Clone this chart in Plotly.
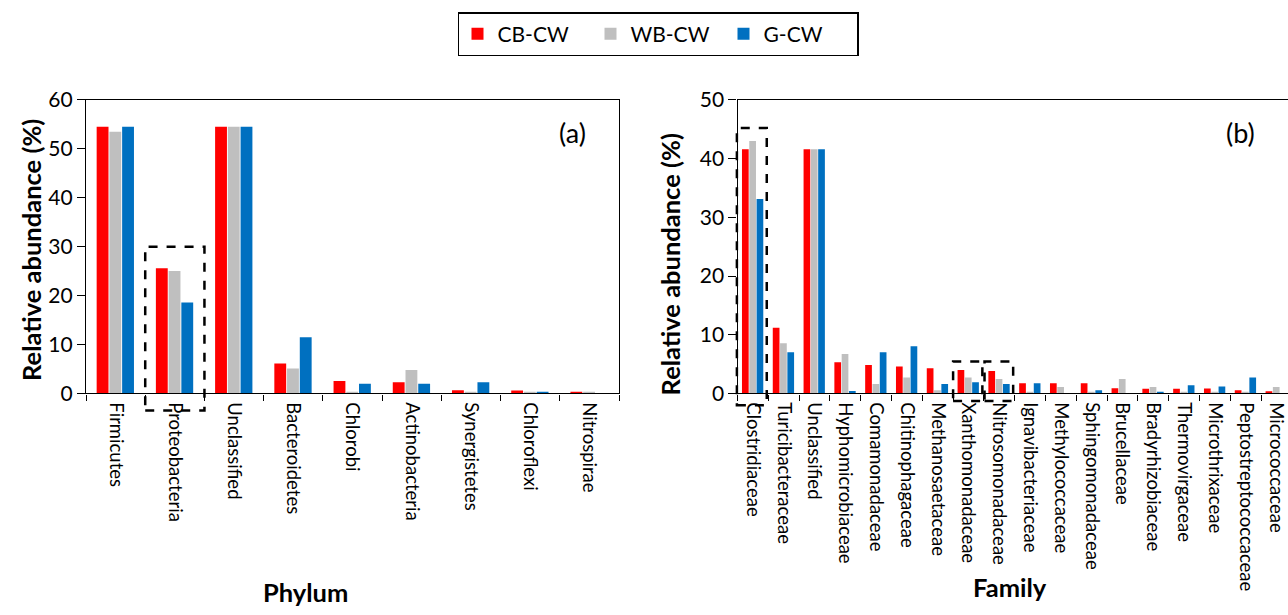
import plotly.graph_objects as go

# ---------------- data ----------------
series_names = ["CB-CW", "WB-CW", "G-CW"]
series_colors = ["#ff0000", "#bfbfbf", "#0070c0"]

phyla = ["Firmicutes", "Proteobacteria", "Unclassified", "Bacteroidetes", "Chlorobi",
         "Actinobacteria", "Synergistetes", "Chloroflexi", "Nitrospirae"]
cb_phylum = [54.5, 25.6, 54.5, 6.1, 2.55, 2.3, 0.65, 0.6, 0.35]
wb_phylum = [53.5, 25.0, 54.5, 5.1, 0.2, 4.8, 0.15, 0.2, 0.15]
g_phylum = [54.5, 18.6, 54.5, 11.5, 2.0, 2.0, 2.3, 0.35, 0.0]

families = ["Clostridiaceae", "Turicibacteraceae", "Unclassified", "Hyphomicrobiaceae",
            "Comamonadaceae", "Chitinophagaceae", "Methanosaetaceae", "Xanthomonadaceae",
            "Nitrosomonadaceae", "Ignavibacteriaceae", "Methylococcaceae",
            "Sphingomonadaceae", "Brucellaceae", "Bradyrhizobiaceae", "Thermovirgaceae",
            "Microthrixaceae", "Peptostreptococcaceae", "Micrococcaceae"]
cb_family = [41.6, 11.2, 41.6, 5.3, 4.85, 4.6, 4.3, 4.0, 3.8, 1.75, 1.75, 1.75,
             0.9, 0.8, 0.8, 0.85, 0.55, 0.35]
wb_family = [43.0, 8.55, 41.6, 6.7, 1.6, 2.7, 0.55, 2.7, 2.45, 0.2, 1.1, 0.2,
             2.45, 1.1, 0.2, 0.2, 0.2, 1.1]
g_family = [33.1, 7.0, 41.6, 0.4, 7.0, 8.05, 1.6, 1.9, 1.6, 1.75, 0.0, 0.55,
            0.0, 0.3, 1.4, 1.2, 2.7, 0.0]

y_ticks_a = [0, 10, 20, 30, 40, 50, 60]
y_ticks_b = [0, 10, 20, 30, 40, 50]

# ---------------- layout geometry ----------------
W, H = 1288, 615
dom_xa = [86 / W, 619 / W]
dom_xb = [737.5 / W, 1.0]
dom_y = [1 - 395.5 / H, 1 - 89.5 / H]
xr_a = [-0.5, len(phyla) - 0.5]
xr_b = [-0.5, -0.5 + (W - 737.5) / 30.8]
yr_a = [0, 60]
yr_b = [0, 50]

FONT = "Lato, Open Sans, sans-serif"

fig = go.Figure()

vals_a = [cb_phylum, wb_phylum, g_phylum]
vals_b = [cb_family, wb_family, g_family]
offs_a = [-0.32, -0.105, 0.11]
offs_b = [-0.355, -0.118, 0.119]

for i, name in enumerate(series_names):
    fig.add_trace(go.Bar(x=phyla, y=vals_a[i], name=name, marker_color=series_colors[i],
                         marker_line_width=0, width=0.2, offset=offs_a[i],
                         xaxis="x", yaxis="y", legendgroup=name))
for i, name in enumerate(series_names):
    fig.add_trace(go.Bar(x=families, y=vals_b[i], name=name, marker_color=series_colors[i],
                         marker_line_width=0, width=0.218, offset=offs_b[i],
                         xaxis="x2", yaxis="y2", legendgroup=name, showlegend=False))

axis_common = dict(showgrid=False, zeroline=False, showline=True, linecolor="#000",
                   linewidth=1.3, ticks="outside", tickcolor="#000", tickwidth=1.3)
tick_font_x = dict(family=FONT, size=18.5, color="#000")
tick_font_y = dict(family=FONT, size=21, color="#000")

fig.update_layout(
    width=W, height=H,
    margin=dict(l=0, r=0, t=0, b=0),
    paper_bgcolor="white", plot_bgcolor="white",
    barmode="group",
    font=dict(family=FONT, color="#000"),
    xaxis=dict(domain=dom_xa, anchor="y", type="category", range=xr_a,
               tickson="boundaries", ticklen=6, tickangle=90, mirror=True,
               ticklabelstandoff=4, tickfont=tick_font_x, **axis_common),
    yaxis=dict(domain=dom_y, anchor="x", range=yr_a, tickvals=y_ticks_a, ticklen=8,
               mirror=True, tickfont=tick_font_y, **axis_common),
    xaxis2=dict(domain=dom_xb, anchor="y2", type="category", range=xr_b,
                tickson="boundaries", ticklen=6, tickangle=90, mirror=True,
                ticklabelstandoff=4, tickfont=tick_font_x, **axis_common),
    yaxis2=dict(domain=dom_y, anchor="x2", range=yr_b, tickvals=y_ticks_b, ticklen=8,
                tickfont=tick_font_y, **axis_common),
    legend=dict(orientation="h", x=658 / W, xanchor="center", y=1 + 2 / H, yanchor="top",
                bordercolor="#000", borderwidth=1.5, bgcolor="white",
                font=dict(size=21, family=FONT, color="#000"),
                entrywidth=88, itemwidth=30),
)

# ---------------- dashed highlight boxes ----------------
def box(xref, yref, x0, x1, y0, y1):
    fig.add_shape(type="rect", xref=xref, yref=yref, x0=x0, x1=x1, y0=y0, y1=y1,
                  line=dict(color="#000", width=2.5, dash="dash"), fillcolor="rgba(0,0,0,0)",
                  layer="above")

def fx(v, xr):
    return (v - xr[0]) / (xr[1] - xr[0])

def fy(v, yr):
    return (v - yr[0]) / (yr[1] - yr[0])

box("x domain", "y domain", fx(0.5, xr_a), fx(1.5, xr_a), fy(-3.5, yr_a), fy(30, yr_a))
box("x2 domain", "y2 domain", fx(-0.52, xr_b), fx(0.45, xr_b), fy(-2.0, yr_b), fy(45.2, yr_b))
box("x2 domain", "y2 domain", fx(6.5, xr_b), fx(7.45, xr_b), fy(-1.3, yr_b), fy(5.45, yr_b))
box("x2 domain", "y2 domain", fx(7.52, xr_b), fx(8.45, xr_b), fy(-1.3, yr_b), fy(5.45, yr_b))

# ---------------- titles / labels ----------------
title_font = dict(family=FONT, size=25.5, color="#000")
ann = [
    dict(text="<b>Relative abundance (%)</b>", x=31 / W, y=1 - 246 / H, textangle=-90),
    dict(text="<b>Relative abundance (%)</b>", x=670 / W, y=1 - 261 / H, textangle=-90),
    dict(text="<b>Phylum</b>", x=305 / W, y=1 - 603 / H, textangle=0),
    dict(text="<b>Family</b>", x=1010 / W, y=1 - 597 / H, textangle=0),
]
for a in ann:
    fig.add_annotation(xref="paper", yref="paper", xanchor="center", yanchor="middle",
                       showarrow=False, font=title_font, **a)
fig.add_annotation(xref="paper", yref="paper", x=572 / W, y=1 - 104 / H, text="(a)",
                   showarrow=False, font=dict(size=27, family=FONT, color="#000"))
fig.add_annotation(xref="paper", yref="paper", x=1257 / W, y=1 - 104 / H, text="(b)",
                   showarrow=False, font=dict(size=27, family=FONT, color="#000"))

fig.write_html("out.html")
